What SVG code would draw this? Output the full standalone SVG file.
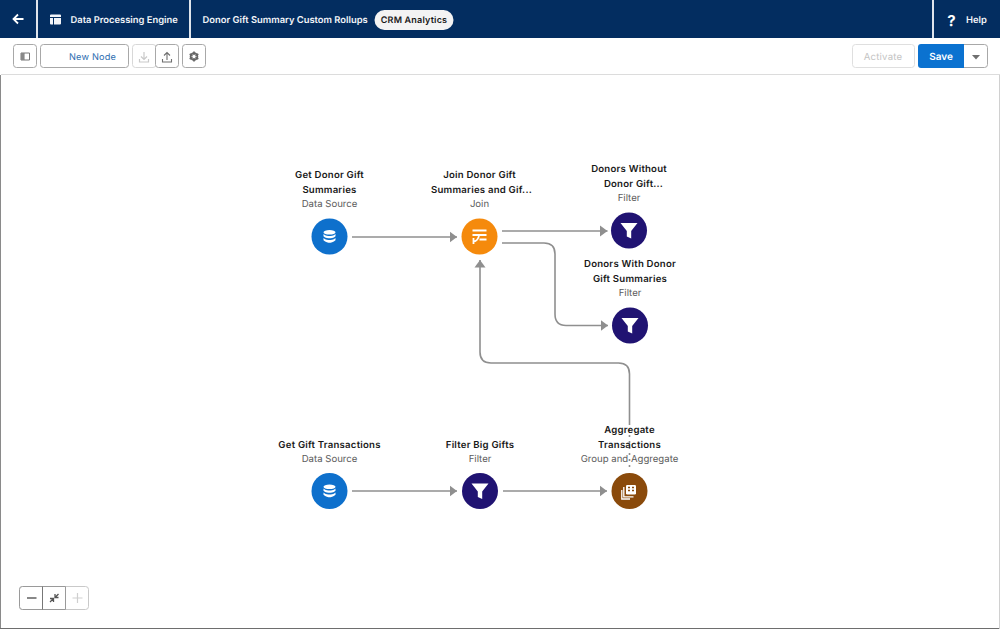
<svg xmlns="http://www.w3.org/2000/svg" width="1000" height="629" viewBox="0 0 1000 629">
<style>
text{font-family:"Inter","Liberation Sans",Arial,sans-serif;text-rendering:geometricPrecision}
.t{font-size:9.6px;font-weight:600;fill:#181818;text-anchor:middle;letter-spacing:.22px}
.s{font-size:9.6px;fill:#5c5c5c;text-anchor:middle}
.h{font-size:9.4px;font-weight:600;fill:#f3f5f9}
.btn{fill:#fff;stroke:#a8a8a8;stroke-width:1}
.c{fill:none;stroke:#8f8f8f;stroke-width:1.6}
.tb{fill:none;stroke:#6f6f6f;stroke-width:1.1}
</style>
<defs>
<marker id="a" markerUnits="userSpaceOnUse" markerWidth="8" markerHeight="12" refX="7.5" refY="6" orient="auto"><path d="M0 .5L7.5 6L0 11.5Z" fill="#8f8f8f"/></marker>
<g id="db" transform="translate(0,0)"><ellipse cx="0" cy="-4.200" rx="6" ry="2.300" fill="#fff"/><path d="M-6-2.400C-4-.4-1-.4 0-.4S4-.4 6-2.400V-.2C4 1.800 1 1.800 0 1.800S-4 1.800-6-.2ZM-6 1.500C-4 3.500-1 3.500 0 3.500S4 3.500 6 1.500V3.700C4 6 1 6.200 0 6.200S-4 6-6 3.700Z" fill="#fff"/></g>
<path id="fn" d="M-8.500-7.500H8.500L2.200 .5V8L-2.200 6V.5Z" fill="#fff"/>
</defs>
<rect width="1000" height="629" fill="#fff"/>
<g id="header">
<rect width="1000" height="38" fill="#032d60"/>
<rect x="36" width="2" height="38" fill="#dfe4ec"/>
<rect x="189" width="2" height="38" fill="#dfe4ec"/>
<rect x="932" width="2" height="38" fill="#dfe4ec"/>
<path d="M13.500 19H23.500M18 14.500L13.500 19L18 23.500" fill="none" stroke="#fff" stroke-width="1.800"/>
<path d="M50 15.500a1 1 0 0 1 1-1H60a1 1 0 0 1 1 1V17H50ZM50 18H53V24.500H51a1 1 0 0 1-1-1ZM54 18H61V23.500a1 1 0 0 1-1 1H54Z" fill="#f3f5f9"/>
<text class="h" x="70.500" y="22.500">Data Processing Engine</text>
<text class="h" x="202.500" y="22.500">Donor Gift Summary Custom Rollups</text>
<rect x="374.500" y="10" width="79" height="20" rx="10" fill="#f3f3f3"/>
<text x="414" y="23.300" font-size="9" font-weight="600" fill="#181818" text-anchor="middle" letter-spacing=".2">CRM Analytics</text>
<text x="951.500" y="25.500" font-size="15" font-weight="700" fill="#fff" text-anchor="middle">?</text>
<text class="h" x="966" y="22.500">Help</text>
</g>
<g id="toolbar">
<rect x="1" y="74" width="999" height="1" fill="#dcdcdc"/>
<rect x="13.500" y="44.500" width="23" height="23" rx="3" class="btn"/>
<path d="M21 53H29.500V60H21ZM24 53V60" fill="none" stroke="#777" stroke-width="1"/><rect x="21" y="53" width="3" height="7" fill="#888"/>
<rect x="40.500" y="44.500" width="88" height="23" rx="3" class="btn"/>
<text x="92.500" y="60" font-size="9.200" fill="#2c6db0" text-anchor="middle" letter-spacing=".2">New Node</text>
<rect x="132.500" y="44.500" width="23.500" height="23" rx="3" fill="#fff" stroke="#d8d8d8"/>
<path d="M144 52V59M141 56.500L144 59.500L147 56.500M139.500 59V62H148.500V59" fill="none" stroke="#c9c9c9" stroke-width="1.200"/>
<rect x="155.500" y="44.500" width="23" height="23" rx="3" class="btn"/>
<path d="M167 60V52.500M164 55.500L167 52.500L170 55.500M162.500 59V62H171.500V59" class="tb"/>
<rect x="182.500" y="44.500" width="23" height="23" rx="3" class="btn"/>
<circle cx="194" cy="56.500" r="3.400" fill="none" stroke="#666" stroke-width="1.800"/>
<path d="M194 51.500V61.500M189.700 54L198.300 59M189.700 59L198.300 54" stroke="#666" stroke-width="1.700"/>
<circle cx="194" cy="56.500" r="1.700" fill="#fff"/>
<rect x="852.500" y="44.500" width="62" height="23" rx="3" fill="#fff" stroke="#dfdfdf"/>
<text x="883" y="60" font-size="9.600" fill="#c4c4c4" text-anchor="middle" letter-spacing=".2">Activate</text>
<rect x="960.500" y="44.500" width="27" height="23" rx="3" class="btn"/>
<path d="M918 47a3 3 0 0 1 3-3H964V68H921a3 3 0 0 1-3-3Z" fill="#0b72d0"/>
<text x="941" y="60" font-size="10" font-weight="600" fill="#fff" text-anchor="middle">Save</text>
<path d="M972 55H980L976 59.500Z" fill="#6f6f6f"/>
</g>
<rect x="0" y="75" width="1" height="554" fill="#8a8a8a"/>
<rect x="0" y="628" width="1000" height="1" fill="#6e6e6e"/>
<rect x="999" y="75" width="1" height="554" fill="#d0d0d0"/>
<g id="connectors">
<path class="c" marker-end="url(#a)" d="M352 237H457"/>
<path class="c" marker-end="url(#a)" d="M502 231H607.500"/>
<path class="c" marker-end="url(#a)" d="M502 243H544Q555 243 555 254V314Q555 325.500 566 325.500H608"/>
<path class="c" marker-end="url(#a)" d="M629.500 423V374Q629.500 363 618.500 363H491Q480 363 480 352V260"/>
<path class="c" stroke-dasharray="2 4" d="M629.500 423V470"/>
<path class="c" marker-end="url(#a)" d="M352 491H457"/>
<path class="c" marker-end="url(#a)" d="M503 491H607"/>
</g>
<g id="n1">
<circle cx="329.500" cy="236.500" r="18" fill="#0e70cc"/><use href="#db" x="329.500" y="236.500"/>
<text class="t" x="329.500" y="177.800">Get Donor Gift</text><text class="t" x="329.500" y="192.800">Summaries</text><text class="s" x="329.500" y="207">Data Source</text>
</g>
<g id="n2">
<circle cx="479.500" cy="236.500" r="18" fill="#f58a0c"/>
<path d="M472.500 230.500H486.500M472.500 235H486.500M479.500 239.500H486.500M473.500 238V244M473.500 241.500C477 241.500 478 239 479 236" fill="none" stroke="#fff" stroke-width="1.800"/>
<text class="t" x="479.500" y="177.800">Join Donor Gift</text><text class="t" x="481.500" y="192.800">Summaries and Gif...</text><text class="s" x="479.500" y="207">Join</text>
</g>
<g id="n3">
<circle cx="629" cy="230.500" r="18" fill="#201372"/><use href="#fn" x="629" y="230.500"/>
<text class="t" x="629" y="171.800">Donors Without</text><text class="t" x="633.500" y="186.800">Donor Gift...</text><text class="s" x="629" y="201">Filter</text>
</g>
<g id="n4">
<circle cx="630" cy="325.500" r="18" fill="#201372"/><use href="#fn" x="630" y="325.500"/>
<text class="t" x="630" y="266.800">Donors With Donor</text><text class="t" x="630" y="281.800">Gift Summaries</text><text class="s" x="630" y="296">Filter</text>
</g>
<g id="n5">
<circle cx="329.500" cy="491" r="18" fill="#0e70cc"/><use href="#db" x="329.500" y="491"/>
<text class="t" x="329.500" y="447.800">Get Gift Transactions</text><text class="s" x="329.500" y="462">Data Source</text>
</g>
<g id="n6">
<circle cx="480" cy="491" r="18" fill="#201372"/><use href="#fn" x="480" y="491"/>
<text class="t" x="480" y="447.800">Filter Big Gifts</text><text class="s" x="480" y="462">Filter</text>
</g>
<g id="n7">
<circle cx="629.500" cy="491" r="18" fill="#8a4a0b"/>
<rect x="626" y="485" width="10" height="9.500" rx="1.200" fill="#fff"/>
<path d="M628 487.500h2M632 487.500h2M628 490.500h2M632 490.500h2" stroke="#8a4a0b" stroke-width="1.500"/>
<path d="M623.800 487V496.800H633.500M621.800 490V499H630" fill="none" stroke="#fff" stroke-width="1.300"/>
<text class="t" x="629.500" y="432.800">Aggregate</text><text class="t" x="629.500" y="447.800">Transactions</text><text class="s" x="629.500" y="462">Group and Aggregate</text>
</g>
<g id="zoom">
<rect x="19.500" y="586.500" width="69" height="23" rx="3" fill="#fff" stroke="#c9c9c9"/>
<path d="M22.500 586.500H65.500V609.500H22.500a3 3 0 0 1-3-3V589.500a3 3 0 0 1 3-3Z" fill="#fff" stroke="#9a9a9a"/>
<path d="M42.500 586.500V609.500" stroke="#777"/>
<path d="M27 598H36.500" stroke="#555" stroke-width="1.400"/>
<path d="M50 602L53 599M50 598.500L53.500 598.500V602M58.500 594L55.500 597M58.500 597.500L55 597.500V594" fill="none" stroke="#555" stroke-width="1.300"/>
<path d="M72.500 598H82.500M77.500 593V603" stroke="#cfcfcf" stroke-width="1.200"/>
</g>
</svg>
